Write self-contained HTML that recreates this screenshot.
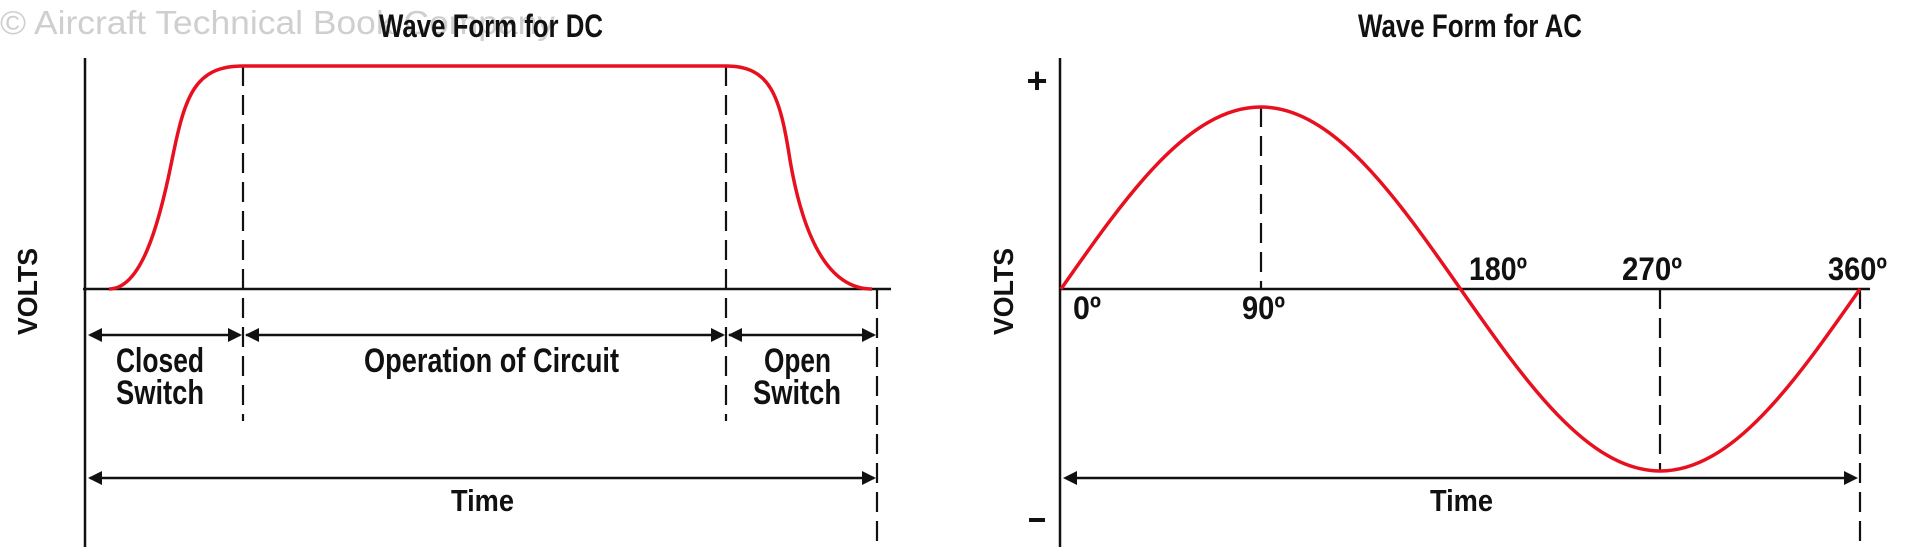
<!DOCTYPE html>
<html><head><meta charset="utf-8"><style>
html,body{margin:0;padding:0;background:#fff;}
svg{display:block;}
.t{font-family:"Liberation Sans Narrow","Liberation Sans",sans-serif;fill:#111;font-weight:bold;}
</style></head><body>
<svg width="1920" height="551" viewBox="0 0 1920 551" xmlns="http://www.w3.org/2000/svg">
<text x="0" y="34" font-family="Liberation Sans, sans-serif" font-size="33" fill="#cfcfcf" textLength="555" lengthAdjust="spacingAndGlyphs">© Aircraft Technical Book Company</text>

<!-- DC panel -->
<text class="t" x="379" y="37" font-size="32" textLength="224" lengthAdjust="spacingAndGlyphs">Wave Form for DC</text>
<line x1="85" y1="58" x2="85" y2="547" stroke="#111" stroke-width="2.5"/>
<line x1="83" y1="289" x2="891" y2="289" stroke="#111" stroke-width="2.5"/>
<g stroke="#111" stroke-width="2.2" stroke-dasharray="20,9">
<line x1="243" y1="66" x2="243" y2="421"/>
<line x1="726" y1="66" x2="726" y2="421"/>
<line x1="877" y1="289" x2="877" y2="547"/>
</g>
<path d="M109,289 C140,289 158,230 172,160 C185,95 195,66 243,66 H726 C770,66 780,95 790,160 C802,230 825,289 872,289" fill="none" stroke="#e8101e" stroke-width="3.5"/>
<g stroke="#111" stroke-width="2.5">
<line x1="90" y1="335" x2="240" y2="335"/>
<line x1="246" y1="335" x2="723" y2="335"/>
<line x1="729" y1="335" x2="874" y2="335"/>
<line x1="90" y1="478" x2="874" y2="478"/>
</g>
<g fill="#111">
<path d="M88,335 l14,-7 v14z"/><path d="M242,335 l-14,-7 v14z"/>
<path d="M245,335 l14,-7 v14z"/><path d="M725,335 l-14,-7 v14z"/>
<path d="M728,335 l14,-7 v14z"/><path d="M876,335 l-14,-7 v14z"/>
<path d="M88,478 l14,-7 v14z"/><path d="M876,478 l-14,-7 v14z"/>
</g>
<text class="t" x="116" y="372" font-size="34" textLength="88" lengthAdjust="spacingAndGlyphs">Closed</text>
<text class="t" x="116" y="404" font-size="34" textLength="88" lengthAdjust="spacingAndGlyphs">Switch</text>
<text class="t" x="364" y="372" font-size="34" textLength="255" lengthAdjust="spacingAndGlyphs">Operation of Circuit</text>
<text class="t" x="764" y="372" font-size="34" textLength="67" lengthAdjust="spacingAndGlyphs">Open</text>
<text class="t" x="753" y="404" font-size="34" textLength="88" lengthAdjust="spacingAndGlyphs">Switch</text>
<text class="t" x="451" y="511" font-size="31" textLength="63" lengthAdjust="spacingAndGlyphs">Time</text>
<text x="0" y="0" font-family="Liberation Sans, sans-serif" font-weight="bold" font-size="28" fill="#111" textLength="87" lengthAdjust="spacingAndGlyphs" transform="translate(37,335) rotate(-90)">VOLTS</text>

<!-- AC panel -->
<text class="t" x="1358" y="37" font-size="32" textLength="224" lengthAdjust="spacingAndGlyphs">Wave Form for AC</text>
<line x1="1060" y1="58" x2="1060" y2="547" stroke="#111" stroke-width="2.5"/>
<line x1="1059" y1="289" x2="1870" y2="289" stroke="#111" stroke-width="2.5"/>
<g stroke="#111" stroke-width="2.2" stroke-dasharray="20,9">
<line x1="1261" y1="107" x2="1261" y2="289"/>
<line x1="1660" y1="289" x2="1660" y2="471"/>
<line x1="1860" y1="289" x2="1860" y2="547"/>
</g>
<path d="M1061,289 C1126.2,195.8 1188.5,107 1260.75,107 C1333,107 1395.3,195.8 1460.5,289 C1525.7,382.2 1588,471 1660.25,471 C1732.5,471 1794.8,382.2 1860,289" fill="none" stroke="#e8101e" stroke-width="3.5"/>
<line x1="1066" y1="478" x2="1855" y2="478" stroke="#111" stroke-width="2.5"/>
<g fill="#111"><path d="M1063,478 l14,-7 v14z"/><path d="M1858,478 l-14,-7 v14z"/></g>
<text x="1037" y="93" text-anchor="middle" font-family="Liberation Sans, sans-serif" font-weight="bold" font-size="36" fill="#111">+</text>
<rect x="1029" y="518" width="16" height="4" fill="#111"/>
<text x="0" y="0" font-family="Liberation Sans, sans-serif" font-weight="bold" font-size="28" fill="#111" textLength="87" lengthAdjust="spacingAndGlyphs" transform="translate(1013,335) rotate(-90)">VOLTS</text>
<text class="t" x="1073" y="319" font-size="32" textLength="28" lengthAdjust="spacingAndGlyphs">0º</text>
<text class="t" x="1242" y="319" font-size="32" textLength="43" lengthAdjust="spacingAndGlyphs">90º</text>
<text class="t" x="1469" y="280" font-size="32" textLength="58" lengthAdjust="spacingAndGlyphs">180º</text>
<text class="t" x="1622" y="280" font-size="32" textLength="60" lengthAdjust="spacingAndGlyphs">270º</text>
<text class="t" x="1828" y="280" font-size="32" textLength="59" lengthAdjust="spacingAndGlyphs">360º</text>
<text class="t" x="1430" y="511" font-size="31" textLength="63" lengthAdjust="spacingAndGlyphs">Time</text>
</svg>
</body></html>
